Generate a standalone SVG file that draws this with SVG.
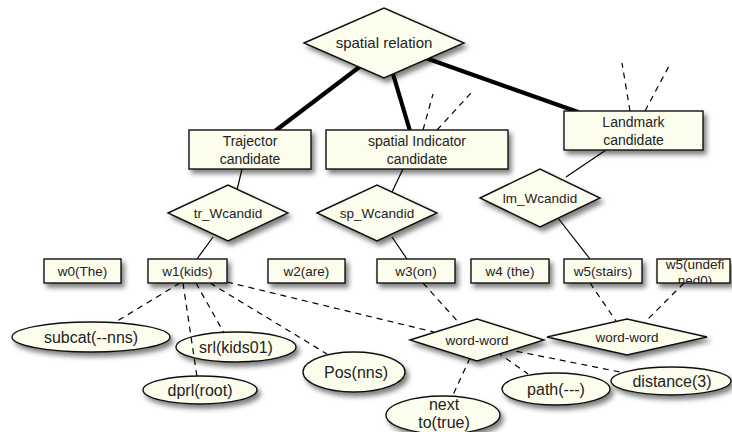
<svg xmlns="http://www.w3.org/2000/svg" width="732" height="432" viewBox="0 0 732 432">
<defs>
<style>
.n{fill:#FDFDEE;stroke:#111;stroke-width:1.4;filter:url(#sh)}
.t{font-family:"Liberation Sans",Arial,sans-serif;fill:#222;text-anchor:middle}
.thick{stroke:#000;stroke-width:4.2;fill:none}
.thin{stroke:#000;stroke-width:1.2;fill:none}
.dash{stroke:#000;stroke-width:1.2;fill:none;stroke-dasharray:6 5}
</style>
<filter id="sh" x="-20%" y="-30%" width="150%" height="180%">
<feDropShadow dx="3" dy="4" stdDeviation="2.5" flood-color="#000" flood-opacity="0.5"/>
</filter>
<clipPath id="cu"><rect x="657" y="259" width="73" height="24"/></clipPath>
</defs>
<rect width="732" height="432" fill="#fff"/>

<g id="srl"><ellipse class="n" cx="236" cy="347" rx="60" ry="15"/><text class="t" x="236" y="353" font-size="16">srl(kids01)</text></g>

<g id="connectors">
<line class="thick" x1="362" y1="65" x2="275" y2="131"/>
<line class="thick" x1="393" y1="74" x2="410" y2="131"/>
<line class="thick" x1="420" y1="56" x2="578" y2="112"/>
<line class="thin" x1="242" y1="169" x2="237" y2="190"/>
<line class="thin" x1="213" y1="237" x2="197" y2="259"/>
<line class="thin" x1="403" y1="169" x2="392" y2="192"/>
<line class="thin" x1="392" y1="237" x2="407" y2="259"/>
<line class="thin" x1="606" y1="150" x2="566" y2="177"/>
<line class="thin" x1="558" y1="218" x2="590" y2="259"/>
<line class="dash" x1="423" y1="130" x2="433" y2="94"/>
<line class="dash" x1="437" y1="130" x2="471" y2="93"/>
<line class="dash" x1="630" y1="111" x2="622" y2="63"/>
<line class="dash" x1="645" y1="111" x2="669" y2="66"/>
<line class="dash" x1="423" y1="283" x2="460" y2="324"/>
<line class="dash" x1="590" y1="283" x2="616" y2="321"/>
<line class="dash" x1="684" y1="283" x2="645" y2="322"/>
<line class="dash" x1="227" y1="282" x2="434" y2="332"/>
<line class="dash" x1="495" y1="347" x2="625" y2="373"/>
<line class="dash" x1="497" y1="352" x2="528" y2="374"/>
<line class="dash" x1="470" y1="358" x2="452" y2="397"/>
<line class="dash" x1="180" y1="283" x2="114" y2="323"/>
<line class="dash" x1="183" y1="283" x2="197" y2="377"/>
<line class="dash" x1="196" y1="283" x2="224" y2="333"/>
<line class="dash" x1="210" y1="283" x2="327" y2="354"/>
</g>

<g id="spatial-relation"><polygon class="n" points="304,43 384,8 464,43 384,78"/><text class="t" x="384" y="48" font-size="15">spatial relation</text></g>
<g id="trajector"><rect class="n" x="189" y="130" width="122" height="39"/><text class="t" x="250" y="146" font-size="14">Trajector</text><text class="t" x="250" y="164" font-size="14">candidate</text></g>
<g id="spatial-indicator"><rect class="n" x="326" y="130" width="182" height="39"/><text class="t" x="417" y="146" font-size="14">spatial Indicator</text><text class="t" x="417" y="164" font-size="14">candidate</text></g>
<g id="landmark"><rect class="n" x="564" y="111" width="139" height="39"/><text class="t" x="633.5" y="127" font-size="14">Landmark</text><text class="t" x="633.5" y="145" font-size="14">candidate</text></g>

<g id="tr_Wcandid"><polygon class="n" points="168,213 228,185 288,213 228,241"/><text class="t" x="228" y="218" font-size="13.5">tr_Wcandid</text></g>
<g id="sp_Wcandid"><polygon class="n" points="317,213 377,185 437,213 377,241"/><text class="t" x="377" y="218" font-size="13.5">sp_Wcandid</text></g>
<g id="lm_Wcandid"><polygon class="n" points="480,198 540,169 600,198 540,227"/><text class="t" x="540" y="203" font-size="13.5">lm_Wcandid</text></g>

<g id="w0"><rect class="n" x="44" y="259" width="77" height="24"/><text class="t" x="82.5" y="276" font-size="13.5">w0(The)</text></g>
<g id="w1"><rect class="n" x="148" y="259" width="79" height="24"/><text class="t" x="187.5" y="276" font-size="13.5">w1(kids)</text></g>
<g id="w2"><rect class="n" x="268" y="259" width="77" height="24"/><text class="t" x="306.5" y="276" font-size="13.5">w2(are)</text></g>
<g id="w3"><rect class="n" x="377" y="259" width="78" height="24"/><text class="t" x="416" y="276" font-size="13.5">w3(on)</text></g>
<g id="w4"><rect class="n" x="471" y="259" width="78" height="24"/><text class="t" x="510" y="276" font-size="13.5">w4 (the)</text></g>
<g id="w5-stairs"><rect class="n" x="564" y="259" width="78" height="24"/><text class="t" x="603" y="276" font-size="13.5">w5(stairs)</text></g>
<g id="w5-undefined"><rect class="n" x="657" y="259" width="73" height="24"/><g clip-path="url(#cu)"><text class="t" x="695" y="269" font-size="13.5">w5(undefi</text><text class="t" x="695" y="285" font-size="13.5">ned0)</text></g></g>

<g id="word-word-1"><polygon class="n" points="410,340 477,319 544,340 477,361"/><text class="t" x="477" y="345" font-size="13.5">word-word</text></g>
<g id="word-word-2"><polygon class="n" points="547,337 627,319 707,337 627,355"/><text class="t" x="627" y="342" font-size="13.5">word-word</text></g>

<g id="subcat"><ellipse class="n" cx="91" cy="337" rx="79" ry="15"/><text class="t" x="91" y="343" font-size="16">subcat(--nns)</text></g>
<g id="pos"><ellipse class="n" cx="354" cy="372" rx="51" ry="20"/><text class="t" x="356" y="378" font-size="16">Pos(nns)</text></g>
<g id="dprl"><ellipse class="n" cx="200" cy="390" rx="57" ry="14"/><text class="t" x="200" y="396" font-size="16">dprl(root)</text></g>
<g id="distance"><ellipse class="n" cx="671" cy="381" rx="60" ry="14"/><text class="t" x="672" y="387" font-size="16">distance(3)</text></g>
<g id="path"><ellipse class="n" cx="556" cy="389" rx="54" ry="16"/><text class="t" x="556" y="395" font-size="16">path(---)</text></g>
<g id="next"><ellipse class="n" cx="443" cy="415" rx="57" ry="19"/><text class="t" x="444" y="410" font-size="16">next</text><text class="t" x="444" y="428" font-size="16">to(true)</text></g>
</svg>
